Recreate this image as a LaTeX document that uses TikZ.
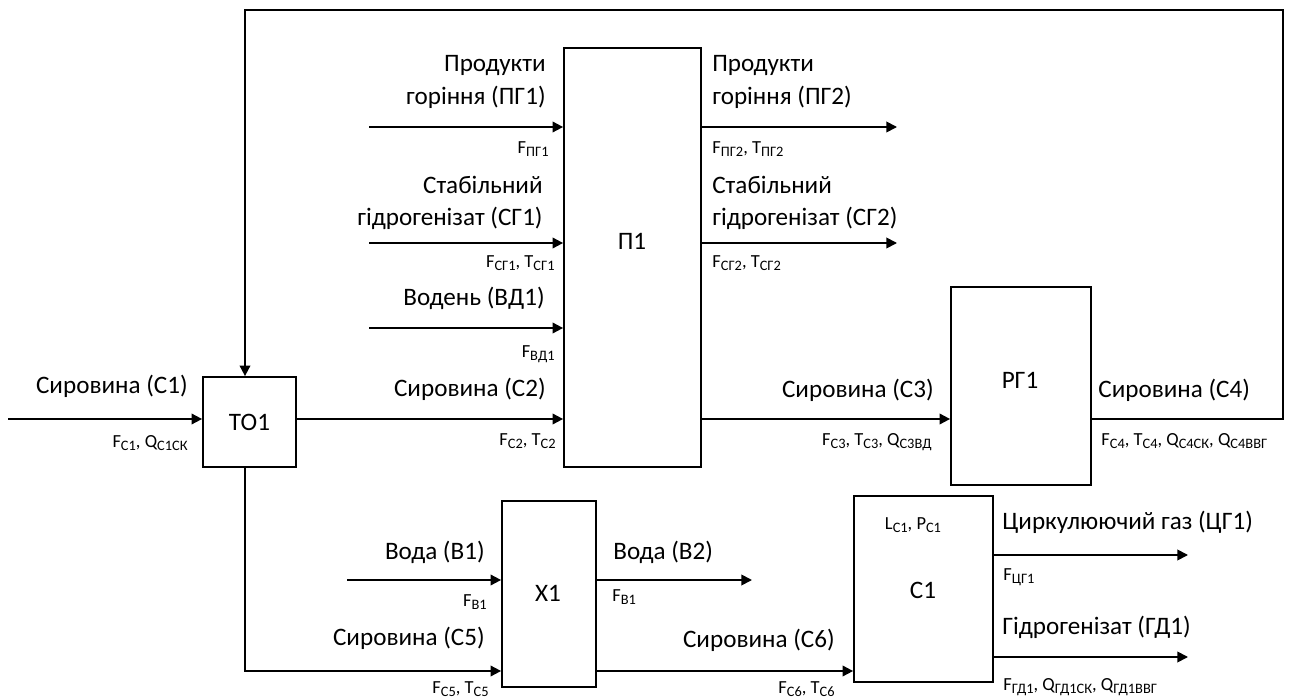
\documentclass[tikz,border=0pt]{standalone}
\usepackage{fontspec}
\setmainfont{Carlito}
\usetikzlibrary{arrows.meta, positioning, calc}

\newcommand{\sbs}[1]{\raisebox{-0.35ex}{\fontsize{8.2}{9}\selectfont #1}}

\tikzset{
  unit/.style={draw, line width=1pt, inner sep=0pt},
  flow/.style={line width=1pt, -{Triangle[length=6pt, width=6pt]}},
  lbl/.style={inner sep=0pt, font=\fontsize{14.3}{18.5}\selectfont},
  vars/.style={inner sep=0pt, font=\fontsize{10.5}{12}\selectfont}
}

\begin{document}
\begin{tikzpicture}[x=0.02cm, y=-0.02cm]
  \useasboundingbox (0,0) rectangle (1292,699);

  % Units
  \node[unit, minimum width=1.86cm, minimum height=1.8cm] (to1) at (249.5,422) {};
  \node[unit, minimum width=2.74cm, minimum height=8.38cm] (p1) at (632.5,257.5) {};
  \node[unit, minimum width=2.8cm, minimum height=3.96cm] (rg1) at (1021,386) {};
  \node[unit, minimum width=1.88cm, minimum height=3.72cm] (x1) at (549,594) {};
  \node[unit, minimum width=2.78cm, minimum height=3.72cm] (c1) at (923.5,589) {};

  \node[lbl] (to1lbl) at (to1) {ТО1};
  \node[lbl] (p1lbl) at (632,241) {П1};
  \node[lbl] (rg1lbl) at (1020,380) {РГ1};
  \node[lbl] (x1lbl) at (548,593) {Х1};
  \node[lbl] (c1lbl) at (923,590) {С1};
  \node[vars] (c1vars) at (913,525) {L\sbs{С1}, P\sbs{С1}};

  % Main line
  \coordinate (c1in) at (8,419);
  \coordinate (loopr) at (1283,10);
  \coordinate (loopl) at (245,10);
  \draw[flow] (c1in) -- (c1in -| to1.west);
  \draw[flow] (to1.east |- c1in) -- (p1.west |- c1in);
  \draw[flow] (p1.east |- c1in) -- (rg1.west |- c1in);
  \draw[flow] (rg1.east |- c1in) -| (loopr) -- (loopl) -- (loopl |- to1.north);

  \node[lbl, anchor=east] (c1name) at (188,386) {Сировина (С1)};
  \node[vars, anchor=east] (c1par) at (188,443) {F\sbs{С1}, Q\sbs{С1СК}};
  \node[lbl, anchor=east] (c2name) at (546,389) {Сировина (С2)};
  \node[vars, anchor=east] (c2par) at (556,441) {F\sbs{С2}, T\sbs{С2}};
  \node[lbl, anchor=east] (c3name) at (934,390) {Сировина (С3)};
  \node[vars, anchor=east] (c3par) at (932,442) {F\sbs{С3}, T\sbs{С3}, Q\sbs{С3ВД}};
  \node[lbl, anchor=west] (c4name) at (1098,390) {Сировина (С4)};
  \node[vars, anchor=west] (c4par) at (1101,441) {F\sbs{С4}, T\sbs{С4}, Q\sbs{С4СК}, Q\sbs{С4ВВГ}};

  % Streams of P1
  \coordinate (pg1in) at (369,127);
  \coordinate (sg1in) at (369,243);
  \coordinate (vd1in) at (369,328);
  \coordinate (pg2out) at (897,127);
  \coordinate (sg2out) at (897,243);
  \draw[flow] (pg1in) -- (pg1in -| p1.west);
  \draw[flow] (sg1in) -- (sg1in -| p1.west);
  \draw[flow] (vd1in) -- (vd1in -| p1.west);
  \draw[flow] (p1.east |- pg2out) -- (pg2out);
  \draw[flow] (p1.east |- sg2out) -- (sg2out);

  \node[lbl, anchor=east, align=right] (pg1name) at (546,82) {Продукти\\горіння (ПГ1)};
  \node[vars, anchor=east] (pg1par) at (549,149) {F\sbs{ПГ1}};
  \node[lbl, anchor=east, align=right] (sg1name) at (543,203) {Стабільний\\гідрогенізат (СГ1)};
  \node[vars, anchor=east] (sg1par) at (555,263) {F\sbs{СГ1}, T\sbs{СГ1}};
  \node[lbl, anchor=east] (vd1name) at (545,298) {Водень (ВД1)};
  \node[vars, anchor=east] (vd1par) at (555,354) {F\sbs{ВД1}};
  \node[lbl, anchor=west, align=left] (pg2name) at (712,82) {Продукти\\горіння (ПГ2)};
  \node[vars, anchor=west] (pg2par) at (712,149) {F\sbs{ПГ2}, T\sbs{ПГ2}};
  \node[lbl, anchor=west, align=left] (sg2name) at (712,203) {Стабільний\\гідрогенізат (СГ2)};
  \node[vars, anchor=west] (sg2par) at (712,263) {F\sbs{СГ2}, T\sbs{СГ2}};

  % Cooler X1
  \coordinate (bend) at (245,671);
  \coordinate (v1in) at (347,580);
  \coordinate (v2out) at (752,580);
  \draw[flow] (bend |- to1.south) -- (bend) -- (bend -| x1.west);
  \draw[flow] (v1in) -- (v1in -| x1.west);
  \draw[flow] (x1.east |- v2out) -- (v2out);
  \draw[flow] (x1.east |- bend) -- (c1.west |- bend);

  \node[lbl, anchor=east] (v1name) at (485,552) {Вода (В1)};
  \node[vars, anchor=east] (v1par) at (487,602) {F\sbs{В1}};
  \node[lbl, anchor=west] (v2name) at (613,552) {Вода (В2)};
  \node[vars, anchor=west] (v2par) at (612,597) {F\sbs{В1}};
  \node[lbl, anchor=east] (c5name) at (485,638) {Сировина (С5)};
  \node[vars, anchor=east] (c5par) at (489,689) {F\sbs{С5}, T\sbs{С5}};
  \node[lbl, anchor=east] (c6name) at (835,640) {Сировина (С6)};
  \node[vars, anchor=east] (c6par) at (835,689) {F\sbs{С6}, T\sbs{С6}};

  % Separator C1
  \coordinate (cg1out) at (1188,555);
  \coordinate (gd1out) at (1188,657);
  \draw[flow] (c1.east |- cg1out) -- (cg1out);
  \draw[flow] (c1.east |- gd1out) -- (gd1out);

  \node[lbl, anchor=west] (cg1name) at (1002,522) {Циркулюючий газ (ЦГ1)};
  \node[vars, anchor=west] (cg1par) at (1003,577) {F\sbs{ЦГ1}};
  \node[lbl, anchor=west] (gd1name) at (1002,627) {Гідрогенізат (ГД1)};
  \node[vars, anchor=west] (gd1par) at (1003,687) {F\sbs{ГД1}, Q\sbs{ГД1СК}, Q\sbs{ГД1ВВГ}};
\end{tikzpicture}
\end{document}
